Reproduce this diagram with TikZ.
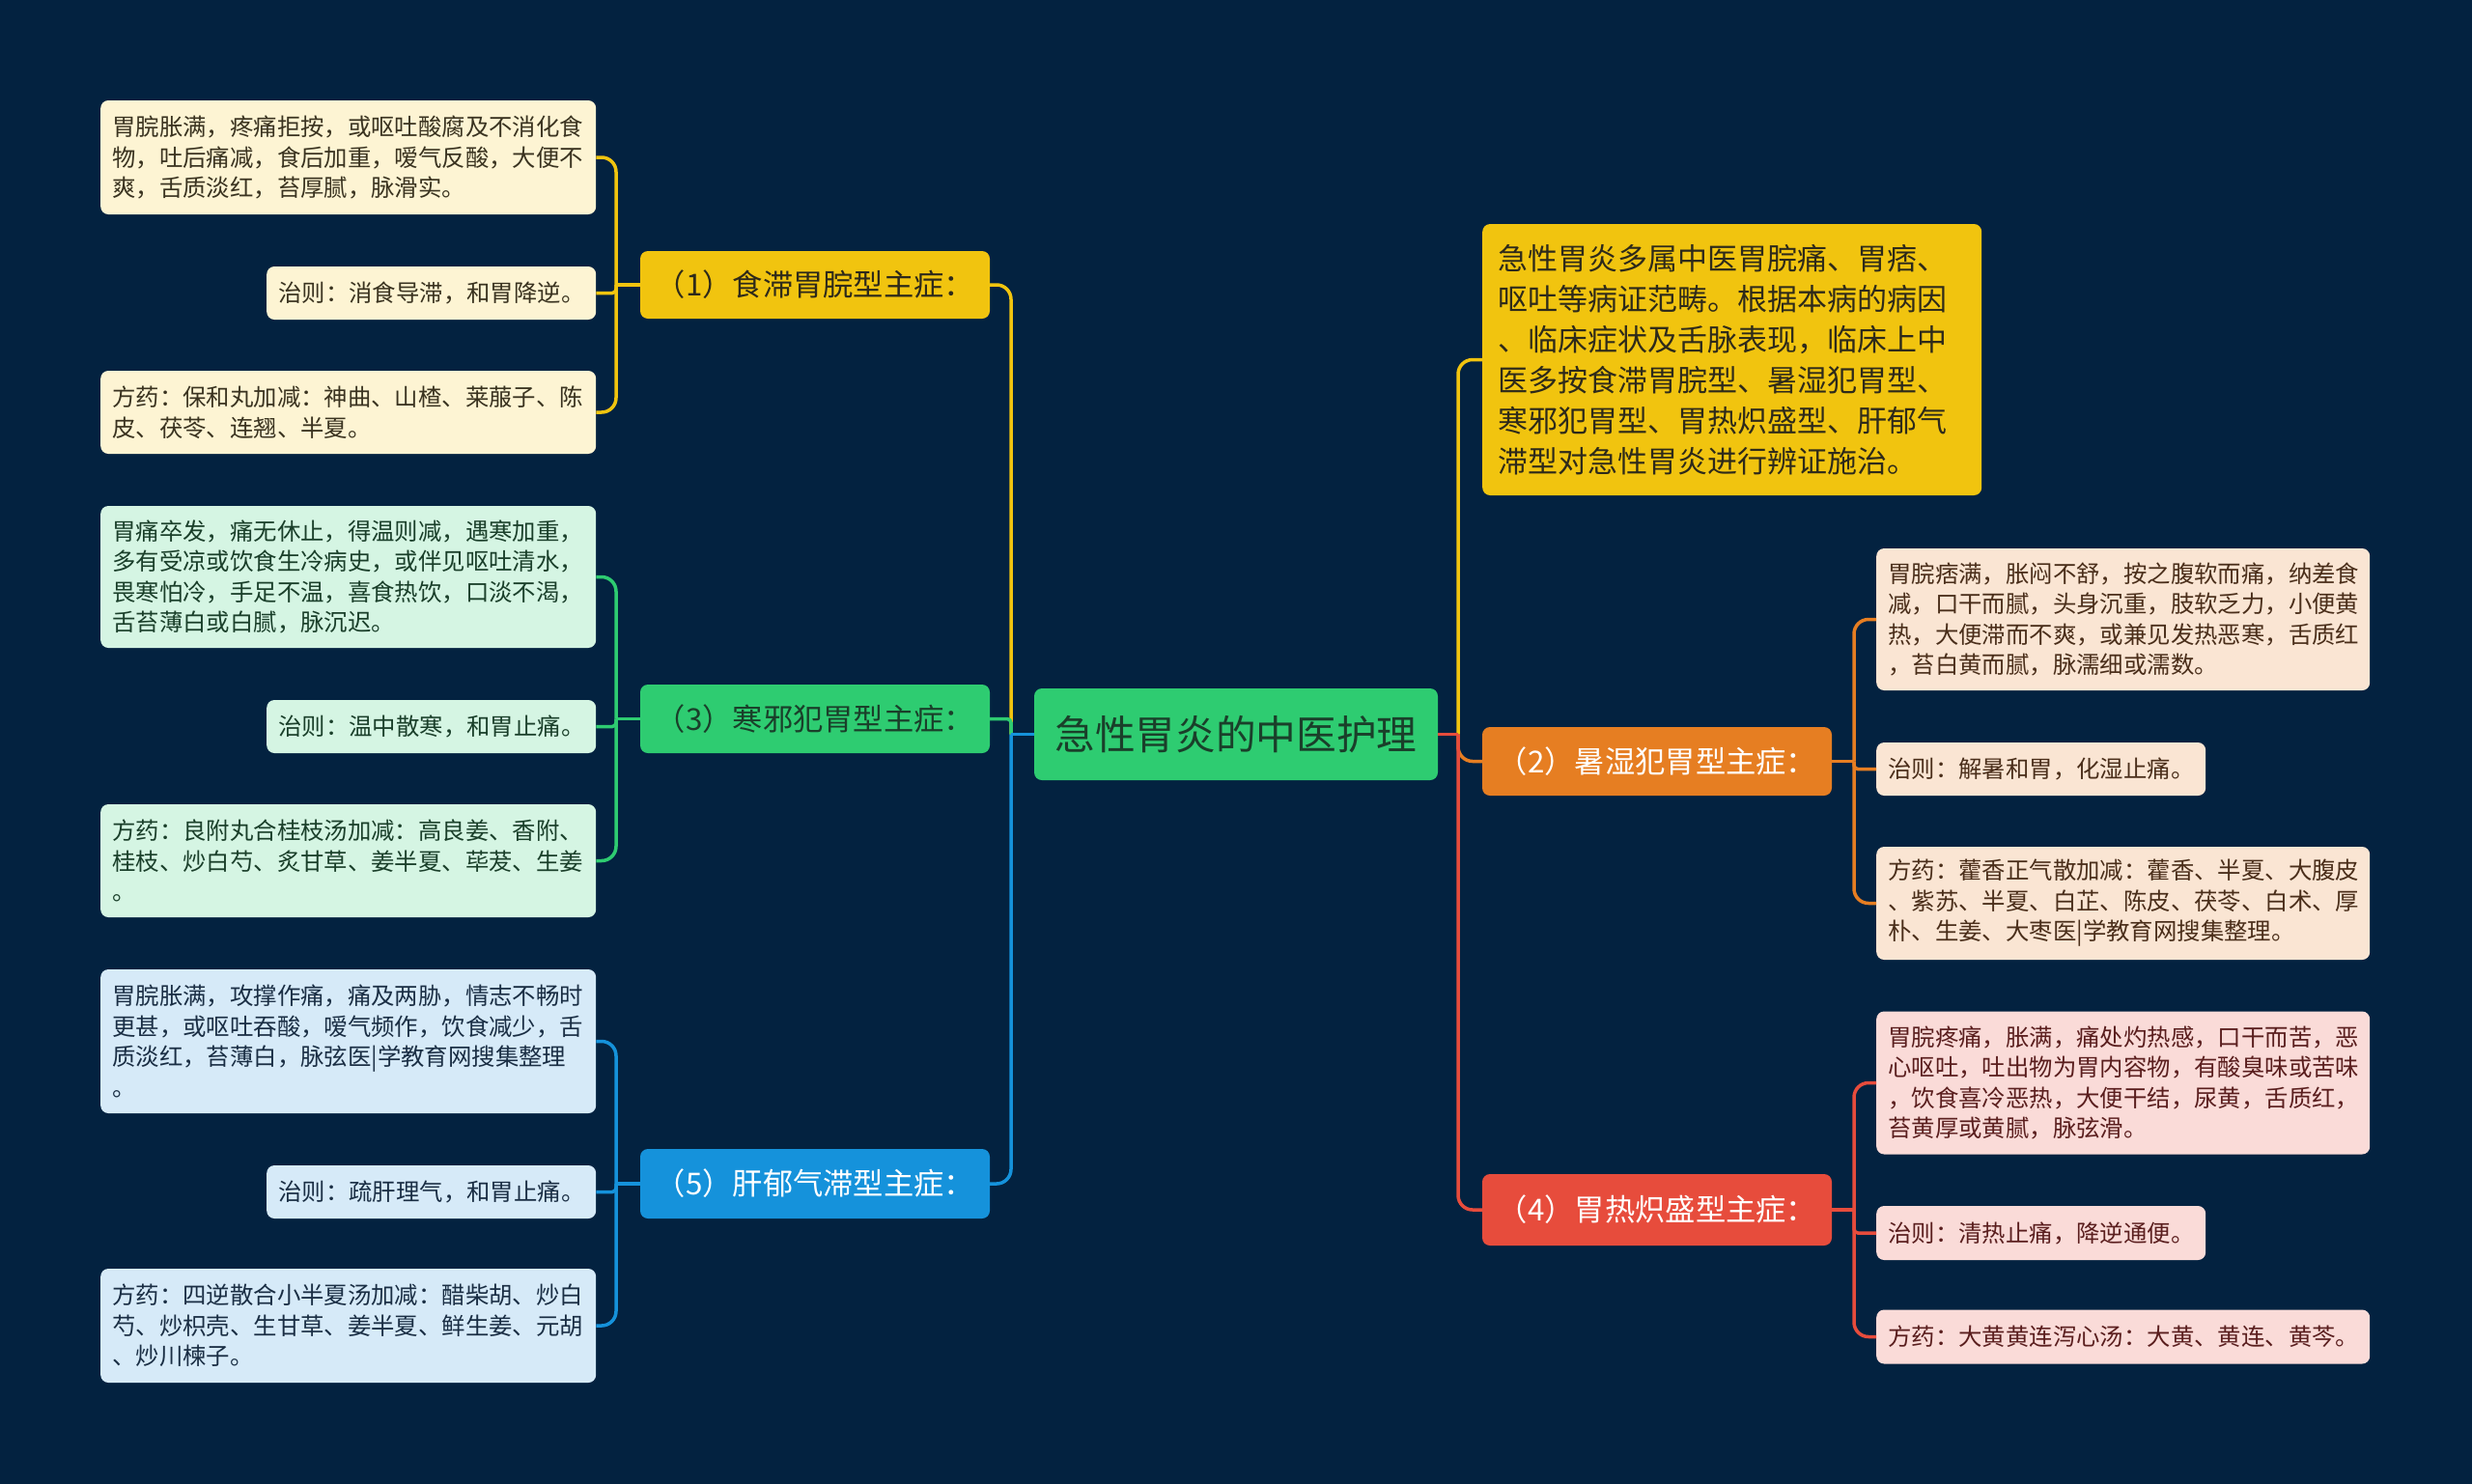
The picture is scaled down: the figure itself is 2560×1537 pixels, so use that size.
\documentclass[tikz,border=0pt]{standalone}
\usepackage{fontspec}
\setmainfont{Noto Sans CJK SC}
\definecolor{bgc}{HTML}{032240}
\definecolor{cyel}{HTML}{F1C40F}
\definecolor{cgrn}{HTML}{2ECC71}
\definecolor{cblu}{HTML}{1592DB}
\definecolor{corg}{HTML}{E67E22}
\definecolor{cred}{HTML}{E74C3C}
\definecolor{lyel}{HTML}{FDF4D3}
\definecolor{lgrn}{HTML}{D5F5E3}
\definecolor{lblu}{HTML}{D6EAF8}
\definecolor{lorg}{HTML}{FAE5D3}
\definecolor{lred}{HTML}{FADBD8}
\definecolor{tyel}{HTML}{3A3320}
\definecolor{tgrn}{HTML}{1A3F2A}
\definecolor{tblu}{HTML}{1A2E44}
\definecolor{torg}{HTML}{4A2E1A}
\definecolor{tred}{HTML}{5A1E1E}
\definecolor{tdark}{HTML}{2E2A1A}
\begin{document}
\begin{tikzpicture}[x=1pt,y=-1pt,
  leaf/.style={rounded corners=8pt, anchor=west, inner xsep=12pt, inner ysep=0pt, align=left,
    font=\fontsize{24.4pt}{31.5pt}\selectfont},
  branch/.style={rounded corners=8pt, inner sep=0pt, minimum width=362pt, align=center,
    font=\fontsize{31.3pt}{40pt}\selectfont},
  rootbox/.style={rounded corners=8pt, inner sep=0pt, minimum width=418pt, minimum height=95pt,
    font=\fontsize{41.7pt}{50pt}\selectfont},
  intro/.style={rounded corners=8pt, anchor=west, inner xsep=16pt, inner ysep=0pt, align=left,
    text width=485pt, minimum height=281pt, font=\fontsize{31pt}{42pt}\selectfont},
  conn/.style={line width=3.5pt},
  rc/.style={rounded corners=15pt},
  rs/.style={rounded corners=4pt}
]
\fill[bgc] (0,0) rectangle (2560,1537);
\useasboundingbox (0,0) rectangle (2560,1537);

% root and branches
\node[rootbox, fill=cgrn, text=tgrn] (root) at (1280,760.5) {急性胃炎的中医护理};
\node[branch, fill=cyel, text=tdark, minimum height=70pt] (b1) at (844,295) {（1）食滞胃脘型主症：};
\node[branch, fill=cgrn, text=tgrn, minimum height=71pt] (b3) at (844,744.5) {（3）寒邪犯胃型主症：};
\node[branch, fill=cblu, text=white, minimum height=72pt] (b5) at (844,1226) {（5）肝郁气滞型主症：};
\node[branch, fill=corg, text=white, minimum height=71pt] (b2) at (1716,788.5) {（2）暑湿犯胃型主症：};
\node[branch, fill=cred, text=white, minimum height=74pt] (b4) at (1716,1253) {（4）胃热炽盛型主症：};
\node[intro, fill=cyel, text=tdark] (intro) at (1535,372.5) {急性胃炎多属中医胃脘痛、胃痞、\\呕吐等病证范畴。根据本病的病因\\、临床症状及舌脉表现，临床上中\\医多按食滞胃脘型、暑湿犯胃型、\\寒邪犯胃型、胃热炽盛型、肝郁气\\滞型对急性胃炎进行辨证施治。};

% left leaves
\node[leaf, fill=lyel, text=tyel, text width=489pt, minimum height=118pt] (L1a) at (104,163) {胃脘胀满，疼痛拒按，或呕吐酸腐及不消化食\\物，吐后痛减，食后加重，嗳气反酸，大便不\\爽，舌质淡红，苔厚腻，脉滑实。};
\node[leaf, fill=lyel, text=tyel, text width=317pt, minimum height=55pt] (L1b) at (276,303.5) {治则：消食导滞，和胃降逆。};
\node[leaf, fill=lyel, text=tyel, text width=489pt, minimum height=86pt] (L1c) at (104,427) {方药：保和丸加减：神曲、山楂、莱菔子、陈\\皮、茯苓、连翘、半夏。};

\node[leaf, fill=lgrn, text=tgrn, text width=489pt, minimum height=147pt] (L3a) at (104,597.5) {胃痛卒发，痛无休止，得温则减，遇寒加重，\\多有受凉或饮食生冷病史，或伴见呕吐清水，\\畏寒怕冷，手足不温，喜食热饮，口淡不渴，\\舌苔薄白或白腻，脉沉迟。};
\node[leaf, fill=lgrn, text=tgrn, text width=317pt, minimum height=55pt] (L3b) at (276,752.5) {治则：温中散寒，和胃止痛。};
\node[leaf, fill=lgrn, text=tgrn, text width=489pt, minimum height=117pt] (L3c) at (104,891.5) {方药：良附丸合桂枝汤加减：高良姜、香附、\\桂枝、炒白芍、炙甘草、姜半夏、荜茇、生姜\\。};

\node[leaf, fill=lblu, text=tblu, text width=489pt, minimum height=149pt] (L5a) at (104,1078.5) {胃脘胀满，攻撑作痛，痛及两胁，情志不畅时\\更甚，或呕吐吞酸，嗳气频作，饮食减少，舌\\质淡红，苔薄白，脉弦医|学教育网搜集整理\\。};
\node[leaf, fill=lblu, text=tblu, text width=317pt, minimum height=55pt] (L5b) at (276,1234.5) {治则：疏肝理气，和胃止痛。};
\node[leaf, fill=lblu, text=tblu, text width=489pt, minimum height=118pt] (L5c) at (104,1373) {方药：四逆散合小半夏汤加减：醋柴胡、炒白\\芍、炒枳壳、生甘草、姜半夏、鲜生姜、元胡\\、炒川楝子。};

% right leaves
\node[leaf, fill=lorg, text=torg, text width=487pt, minimum height=147pt] (R2a) at (1943,641.5) {胃脘痞满，胀闷不舒，按之腹软而痛，纳差食\\减，口干而腻，头身沉重，肢软乏力，小便黄\\热，大便滞而不爽，或兼见发热恶寒，舌质红\\，苔白黄而腻，脉濡细或濡数。};
\node[leaf, fill=lorg, text=torg, text width=317pt, minimum height=55pt] (R2b) at (1943,796.5) {治则：解暑和胃，化湿止痛。};
\node[leaf, fill=lorg, text=torg, text width=487pt, minimum height=117pt] (R2c) at (1943,935.5) {方药：藿香正气散加减：藿香、半夏、大腹皮\\、紫苏、半夏、白芷、陈皮、茯苓、白术、厚\\朴、生姜、大枣医|学教育网搜集整理。};

\node[leaf, fill=lred, text=tred, text width=487pt, minimum height=148pt] (R4a) at (1943,1121.5) {胃脘疼痛，胀满，痛处灼热感，口干而苦，恶\\心呕吐，吐出物为胃内容物，有酸臭味或苦味\\，饮食喜冷恶热，大便干结，尿黄，舌质红，\\苔黄厚或黄腻，脉弦滑。};
\node[leaf, fill=lred, text=tred, text width=317pt, minimum height=56pt] (R4b) at (1943,1277) {治则：清热止痛，降逆通便。};
\node[leaf, fill=lred, text=tred, text width=487pt, minimum height=56pt] (R4c) at (1943,1384.5) {方药：大黄黄连泻心汤：大黄、黄连、黄芩。};

% junction coordinates
\coordinate (jl) at (1047,760.5);
\coordinate (jr) at (1510,760.5);
\coordinate (j1) at (638,295);
\coordinate (j3) at (638,744.5);
\coordinate (j5) at (638,1226);
\coordinate (j2) at (1920,788.5);
\coordinate (j4) at (1920,1253);

% root to left branches
\draw[conn, cyel, rc] (jl) |- (b1.east);
\draw[conn, cgrn, rs] (jl) |- (b3.east);
\draw[conn, cblu, rc] (jl) |- (b5.east);
\draw[conn, cblu] (root.west) -- (jl);
% root to right branches
\draw[conn, cyel, rc] (jr) |- (intro.west);
\draw[conn, corg, rc] (jr) |- (b2.west);
\draw[conn, cred, rc] (jr) |- (b4.west);
\draw[conn, cred] (root.east) -- (jr);

% branch 1
\draw[conn, cyel] (b1.west) -- (j1);
\draw[conn, cyel, rc] (j1) |- (L1a.east);
\draw[conn, cyel, rs] (j1) |- (L1b.east);
\draw[conn, cyel, rc] (j1) |- (L1c.east);
% branch 3
\draw[conn, cgrn] (b3.west) -- (j3);
\draw[conn, cgrn, rc] (j3) |- (L3a.east);
\draw[conn, cgrn, rs] (j3) |- (L3b.east);
\draw[conn, cgrn, rc] (j3) |- (L3c.east);
% branch 5
\draw[conn, cblu] (b5.west) -- (j5);
\draw[conn, cblu, rc] (j5) |- (L5a.east);
\draw[conn, cblu, rs] (j5) |- (L5b.east);
\draw[conn, cblu, rc] (j5) |- (L5c.east);
% branch 2
\draw[conn, corg] (b2.east) -- (j2);
\draw[conn, corg, rc] (j2) |- (R2a.west);
\draw[conn, corg, rs] (j2) |- (R2b.west);
\draw[conn, corg, rc] (j2) |- (R2c.west);
% branch 4
\draw[conn, cred] (b4.east) -- (j4);
\draw[conn, cred, rc] (j4) |- (R4a.west);
\draw[conn, cred, rs] (j4) |- (R4b.west);
\draw[conn, cred, rc] (j4) |- (R4c.west);
\end{tikzpicture}
\end{document}
